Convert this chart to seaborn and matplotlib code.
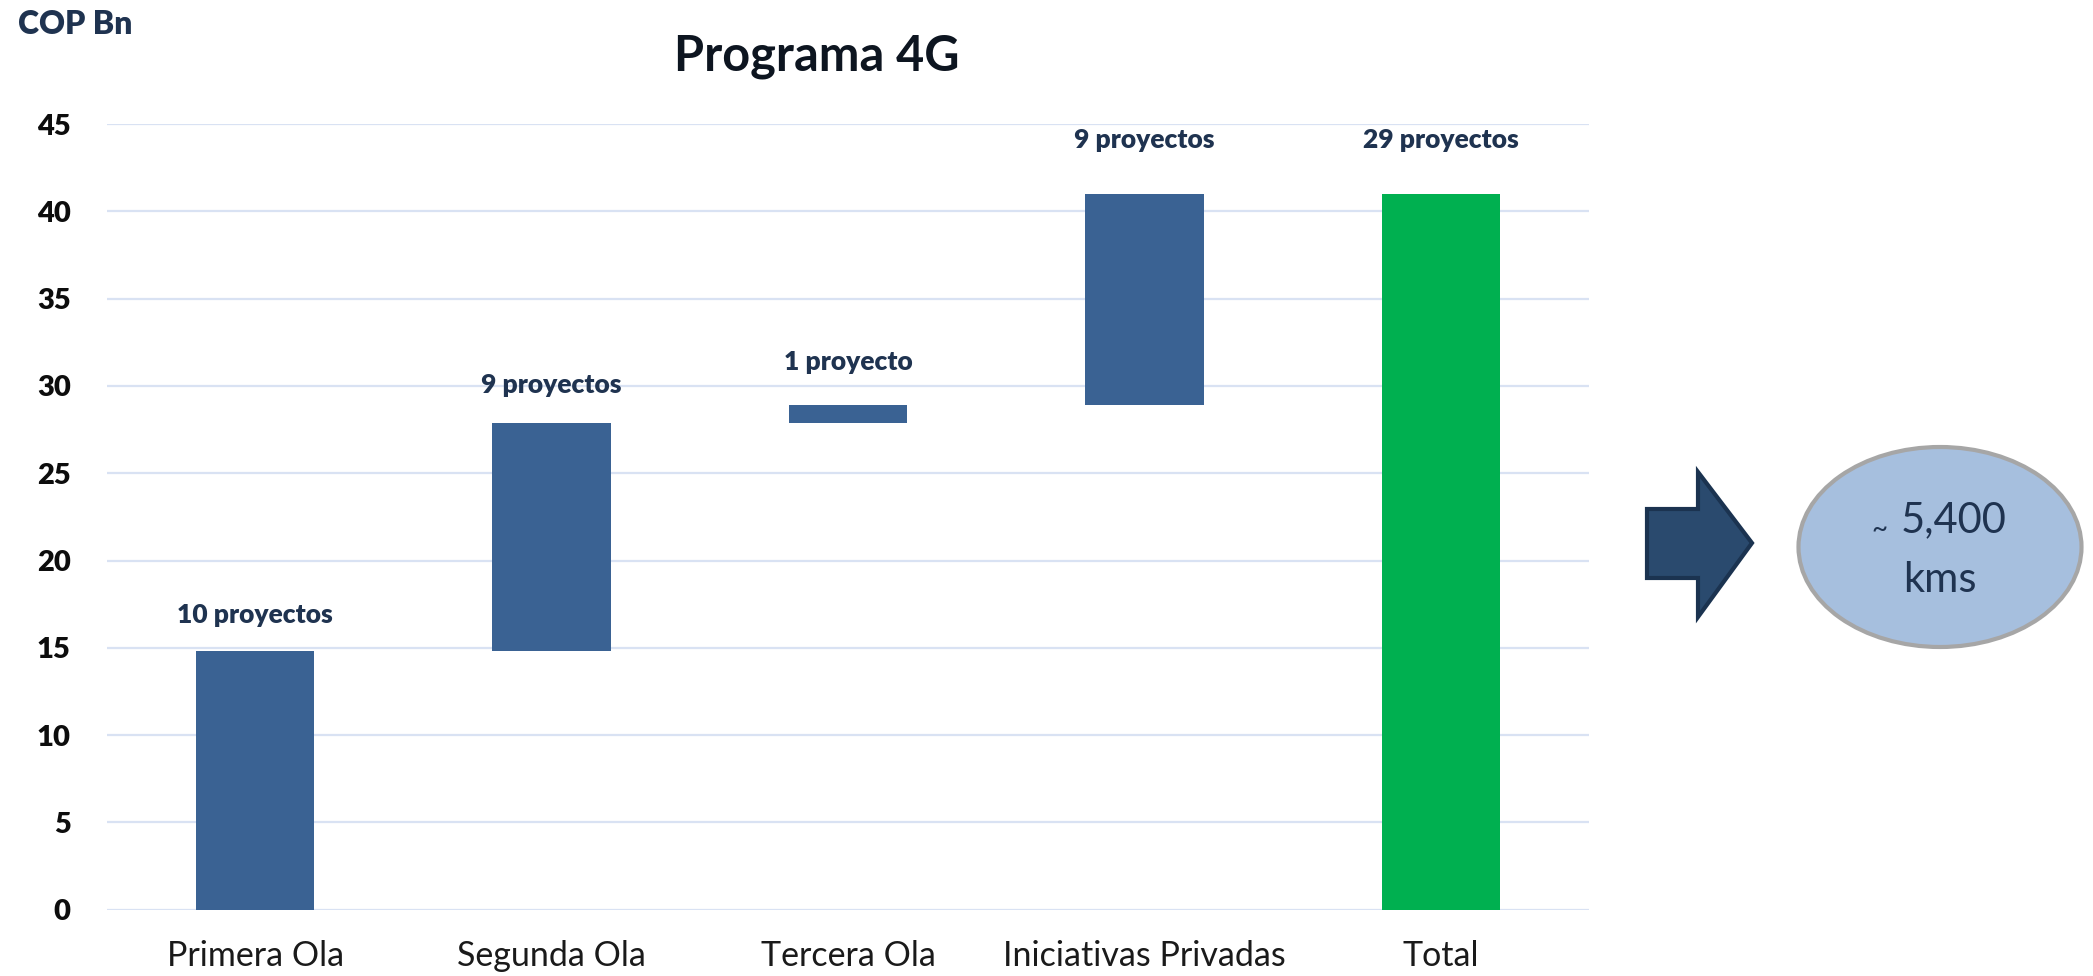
import matplotlib
matplotlib.use("Agg")
import matplotlib.pyplot as plt
from matplotlib.patches import Polygon, Ellipse
import numpy as np
import pandas as pd
import seaborn as sns

# Datos del programa 4G (COP billones)
categories = ["Primera Ola", "Segunda Ola", "Tercera Ola", "Iniciativas Privadas", "Total"]
increments = [14.8, 13.1, 1.0, 12.1]
total = 41.0
project_labels = ["10 proyectos", "9 proyectos", "1 proyecto", "9 proyectos", "29 proyectos"]
y_ticks = [0, 5, 10, 15, 20, 25, 30, 35, 40, 45]

# cascada: cada ola arranca donde termina la anterior, el total desde cero
bottoms = np.concatenate([[0], np.cumsum(increments)[:-1], [0]])
heights = np.array(increments + [total])
df = pd.DataFrame({"etapa": categories, "monto": heights})

blue = "#3A6293"
green = "#00B050"
navy = "#1F3350"

sns.set_style("white")
plt.rcParams["font.family"] = ["Lato", "DejaVu Sans"]

fig = plt.figure(figsize=(20.93, 9.76), dpi=100)
ax = fig.add_axes([0.0511, 0.0679, 0.7081, 0.805])

sns.barplot(data=df, x="etapa", y="monto", order=categories, bottom=bottoms,
            width=0.4, color=blue, saturation=1, linewidth=0, errorbar=None, ax=ax)
ax.patches[-1].set_facecolor(green)

ax.set_xlim(-0.5, 4.5)
ax.set_ylim(0, 45)
ax.set_yticks(y_ticks)
ax.set_xlabel("")
ax.set_ylabel("")
ax.set_axisbelow(True)
ax.yaxis.grid(True, color="#D9E2F3", linewidth=1.6)
ax.xaxis.grid(False)
for s in ax.spines.values():
    s.set_visible(False)
ax.tick_params(axis="y", length=0, pad=26, labelsize=21, labelcolor="#0D0D0D")
ax.tick_params(axis="x", length=0, pad=22, labelsize=24.5, labelcolor="#1A1A1A")
for t in ax.get_yticklabels():
    t.set_fontweight("heavy")

# etiquetas de proyectos sobre cada barra
label_pad = [26, 27, 31, 39, 39]
for i, p in enumerate(ax.patches):
    top = p.get_y() + p.get_height()
    ax.annotate(project_labels[i], (p.get_x() + p.get_width() / 2, top),
                xytext=(0, label_pad[i]), textcoords="offset points",
                ha="center", va="center", fontsize=19, fontweight="heavy",
                color=navy, annotation_clip=False)

fig.text(0.390, 0.9273, "Programa 4G", ha="center", va="baseline",
         fontsize=35, fontweight="bold", color="#0D1520")
fig.text(18 / 2093, 1 - 34 / 976, "COP Bn", ha="left", va="baseline",
         fontsize=23, fontweight="heavy", color=navy)

# flecha y elipse a la derecha (en pixeles de la figura)
ov = fig.add_axes([0, 0, 1, 1])
ov.set_xlim(0, 2093)
ov.set_ylim(976, 0)
ov.axis("off")
arrow = Polygon([(1647, 509), (1698, 509), (1698, 472), (1752, 543),
                 (1698, 617), (1698, 578), (1647, 578)],
                closed=True, facecolor="#2A4A6E", edgecolor="#1B3350", linewidth=3)
ov.add_patch(arrow)
ell = Ellipse((1940, 547), 283, 200, facecolor="#A6BFDE", edgecolor="#A6A6A6", linewidth=3)
ov.add_patch(ell)
ov.text(1879, 530, "~", ha="center", va="center", fontsize=20, color=navy)
ov.text(1954, 520, "5,400", ha="center", va="center", fontsize=30, color=navy)
ov.text(1940, 580, "kms", ha="center", va="center", fontsize=30, color=navy)

fig.savefig("out.png", dpi=100)
